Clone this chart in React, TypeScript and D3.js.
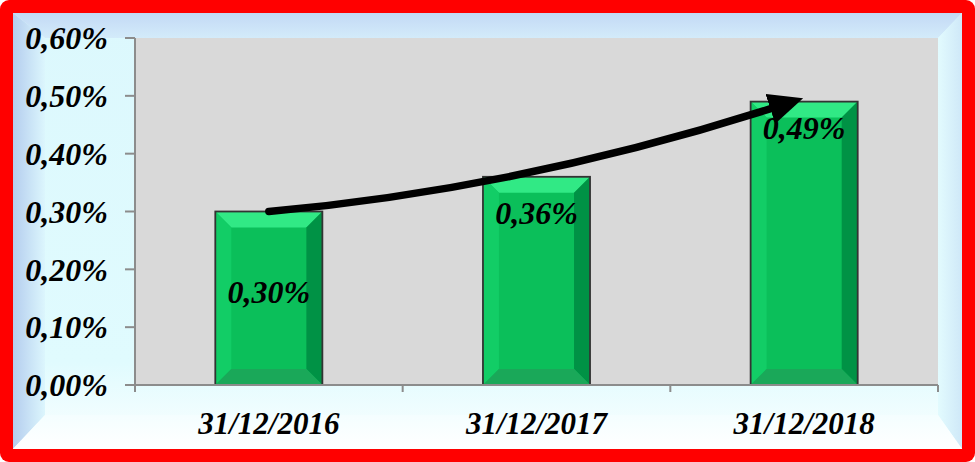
import React from 'react';
import * as d3 from 'd3';

const categories = ['31/12/2016', '31/12/2017', '31/12/2018'];
const values = [0.30, 0.36, 0.49];
const yTicks = [0, 0.1, 0.2, 0.3, 0.4, 0.5, 0.6];

const W = 975;
const H = 462;
const plot = { left: 135, top: 38, right: 938, bottom: 385 };
const FONT = '"Liberation Serif", "Times New Roman", serif';
// labels sit a bit lower in the first bar, like in the original
const labelDrop = [80, 36, 26];

// values are already in percent
const fmt = (v: number) => v.toFixed(2).replace('.', ',') + '%';

const App = () => {
  const x = d3.scaleBand<string>()
    .domain(categories)
    .range([plot.left, plot.right])
    .paddingInner(0.6)
    .paddingOuter(0.3);

  const y = d3.scaleLinear()
    .domain([0, 0.6])
    .range([plot.bottom, plot.top]);

  const bw = x.bandwidth();
  const step = x.step();
  const bev = 16;

  // arrow from top of first bar to top of last bar
  const p0: [number, number] = [x(categories[0])! + bw / 2, y(values[0])];
  const p2: [number, number] = [x(categories[2])! + bw / 2 - 24, y(values[2]) + 4];
  const ctrl: [number, number] = [(p0[0] + p2[0]) / 2, y(0.345) + 3];
  const path = d3.path();
  path.moveTo(p0[0], p0[1]);
  path.quadraticCurveTo(ctrl[0], ctrl[1], p2[0], p2[1]);

  const boundaries = d3.range(categories.length + 1).map(i => plot.left + i * step);

  return (
    <svg width={W} height={H} style={{ display: 'block', position: 'absolute', left: 0, top: 0 }}>
      <defs>
        <linearGradient id="face" x1="0" y1="0" x2="0" y2="1">
          <stop offset="0" stopColor="#dcf8fd" />
          <stop offset="0.8" stopColor="#e0fbfe" />
          <stop offset="1" stopColor="#fbffff" />
        </linearGradient>
        <linearGradient id="leftBev" x1="0" y1="0" x2="1" y2="0">
          <stop offset="0" stopColor="#b4cdee" />
          <stop offset="1" stopColor="#dcf6fd" />
        </linearGradient>
        <linearGradient id="topBev" x1="0" y1="0" x2="0" y2="1">
          <stop offset="0" stopColor="#c3d9f5" />
          <stop offset="1" stopColor="#d3ebfa" />
        </linearGradient>
        <linearGradient id="rightBev" x1="0" y1="0" x2="1" y2="0">
          <stop offset="0" stopColor="#e2fbfe" />
          <stop offset="1" stopColor="#cfe8f8" />
        </linearGradient>
        <linearGradient id="botBev" x1="0" y1="0" x2="0" y2="1">
          <stop offset="0" stopColor="#f4feff" />
          <stop offset="1" stopColor="#ffffff" />
        </linearGradient>
        <marker id="head" viewBox="0 0 10 10" refX="3" refY="5" markerWidth="4.6" markerHeight="4.2" orient="auto" markerUnits="strokeWidth" preserveAspectRatio="none">
          <path d="M0,0 L10,5 L0,10 Z" fill="#000" />
        </marker>
      </defs>

      {/* red frame */}
      <rect x={0} y={0} width={W} height={H} rx={9} fill="#ff0000" />
      <rect x={13} y={13} width={W - 26} height={H - 26} fill="url(#face)" />
      {/* bevels */}
      <polygon points={`13,13 962,13 938,38 45,38`} fill="url(#topBev)" />
      <polygon points={`13,13 45,38 45,415 13,449`} fill="url(#leftBev)" />
      <polygon points={`962,13 962,449 938,415 938,38`} fill="url(#rightBev)" />
      <polygon points={`13,449 45,415 938,415 962,449`} fill="url(#botBev)" />

      {/* plot area */}
      <rect x={plot.left} y={plot.top} width={plot.right - plot.left} height={plot.bottom - plot.top} fill="#d9d9d9" />

      {/* bars */}
      {values.map((v, i) => {
        const bx = x(categories[i])!;
        const by = y(v);
        const bh = plot.bottom - by;
        const r = bx + bw;
        const b = plot.bottom;
        return (
          <g key={categories[i]}>
            <rect x={bx} y={by} width={bw} height={bh} fill="#0bbf5a" />
            <polygon points={`${bx},${by} ${r},${by} ${r - bev},${by + bev} ${bx + bev},${by + bev}`} fill="#31e985" />
            <polygon points={`${bx},${by} ${bx + bev},${by + bev} ${bx + bev},${b - bev} ${bx},${b}`} fill="#12cd66" />
            <polygon points={`${r},${by} ${r},${b} ${r - bev},${b - bev} ${r - bev},${by + bev}`} fill="#009245" />
            <polygon points={`${bx},${b} ${bx + bev},${b - bev} ${r - bev},${b - bev} ${r},${b}`} fill="#1aa859" />
            <rect x={bx} y={by} width={bw} height={bh} fill="none" stroke="#333" strokeWidth={1.8} />
          </g>
        );
      })}

      {/* axes */}
      <g stroke="#8c8c8c" strokeWidth={2} fill="none">
        <line x1={plot.left} y1={plot.top} x2={plot.left} y2={plot.bottom} />
        <line x1={plot.left} y1={plot.bottom} x2={plot.right} y2={plot.bottom} />
        {yTicks.map(t => (
          <line key={t} x1={plot.left - 10} x2={plot.left} y1={y(t)} y2={y(t)} />
        ))}
        {boundaries.map((bx, i) => (
          <line key={i} x1={bx} x2={bx} y1={plot.bottom} y2={plot.bottom + 7} />
        ))}
      </g>

      <g fontFamily={FONT} fontWeight="bold" fontStyle="italic" fill="#000">
        {yTicks.map(t => (
          <text key={t} x={108} y={y(t)} dy="0.35em" textAnchor="end" fontSize={32}>{fmt(t)}</text>
        ))}
        {categories.map(c => (
          <text key={c} x={x(c)! + bw / 2} y={434} textAnchor="middle" fontSize={31}>{c}</text>
        ))}
      </g>

      {/* arrow */}
      <path d={path.toString()} fill="none" stroke="#000" strokeWidth={7.5} strokeLinecap="round" markerEnd="url(#head)" />

      <g fontFamily={FONT} fontWeight="bold" fontStyle="italic" fill="#000">
        {values.map((v, i) => (
          <text key={i} x={x(categories[i])! + bw / 2} y={y(v) + labelDrop[i]} dy="0.35em" textAnchor="middle" fontSize={32}>{fmt(v)}</text>
        ))}
      </g>
    </svg>
  );
};

export default App;
